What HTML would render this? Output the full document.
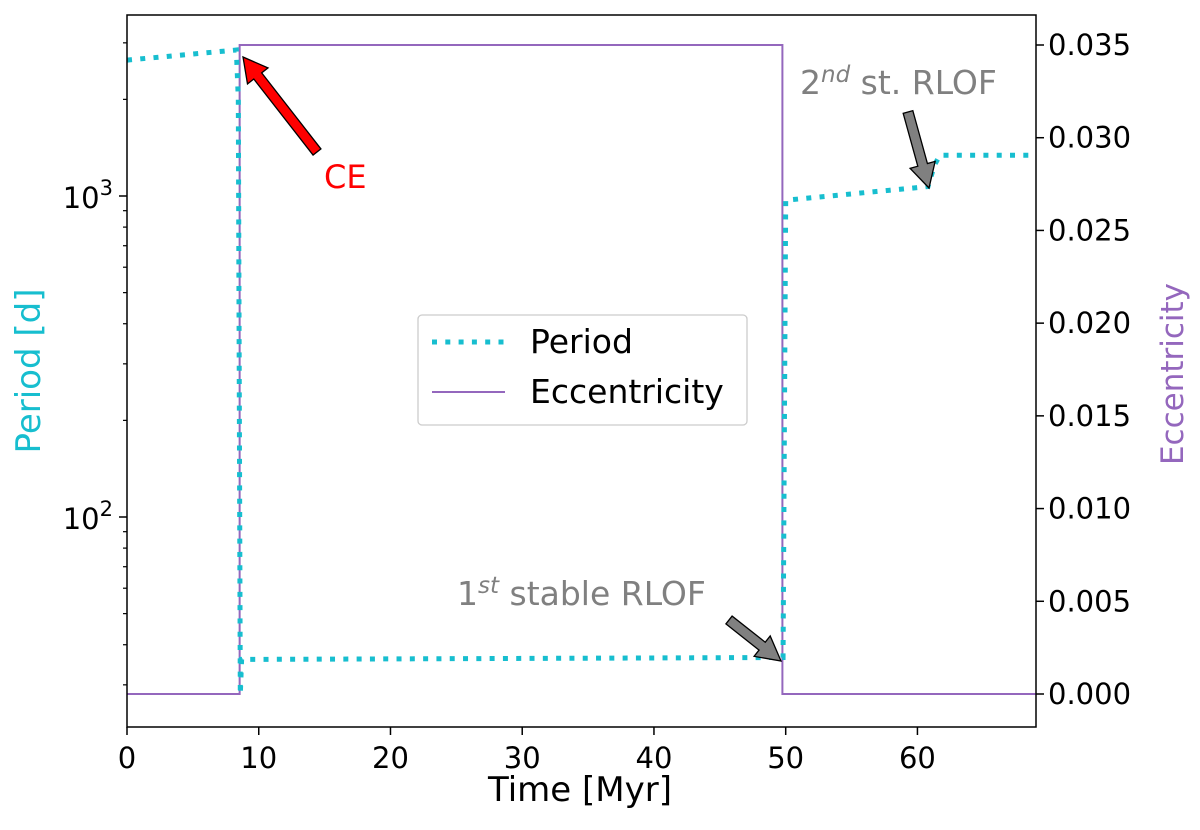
<!DOCTYPE html>
<html><head><meta charset="utf-8"><style>
body{margin:0;background:#fff;}
svg text{font-family:"DejaVu Sans","Liberation Sans",sans-serif;}
</style></head><body>
<svg id="chart" width="1200" height="825" xmlns="http://www.w3.org/2000/svg"></svg>
<script>
const periodT = [0, 8.3, 8.45, 8.6, 8.7, 49.5, 49.8, 50.0, 60.8, 61.3, 61.7, 69];
const periodV = [2650, 2850, 2000, 28, 36, 36.5, 36.5, 970, 1070, 1250, 1340, 1340];
const eccT = [0, 8.55, 8.55, 49.75, 49.75, 69];
const eccV = [0, 0, 0.035, 0.035, 0, 0];
const xTicks = [0, 10, 20, 30, 40, 50, 60];
const eTicks = [0, 0.005, 0.010, 0.015, 0.020, 0.025, 0.030, 0.035];
const eTickLabels = ["0.000","0.005","0.010","0.015","0.020","0.025","0.030","0.035"];
const pMajor = [100, 1000];

const L=127,R=1036,T=15,B=727;
const x = t => L + (t/69)*(R-L);
const yE = e => 694 - e/0.035*(694-45);
const yP = p => 517 - (Math.log10(p)-2)*321;
const NS="http://www.w3.org/2000/svg";
const svg=document.getElementById('chart');
function mk(tag,attrs,parent){const e=document.createElementNS(NS,tag);for(const k in attrs)e.setAttribute(k,attrs[k]);(parent||svg).appendChild(e);return e;}

let d=eccT.map((t,i)=>(i?'L':'M')+x(t)+' '+yE(eccV[i])).join(' ');
const ecc=mk('path',{d:d,fill:'none',stroke:'#9467bd','stroke-width':2});


d=periodT.map((t,i)=>(i?'L':'M')+x(t)+' '+yP(periodV[i])).join(' ');
const per=mk('path',{d:d,fill:'none',stroke:'#17becf','stroke-width':5,'stroke-dasharray':'5 8.3'});



const fr=mk('rect',{x:L,y:T,width:R-L,height:B-T,fill:'none',stroke:'#000','stroke-width':1.5});



xTicks.forEach(t=>{
  mk('line',{x1:x(t),x2:x(t),y1:B,y2:B+8,stroke:'#000','stroke-width':1.5});
  const tx=mk('text',{x:x(t),y:B+41,'font-size':29,'text-anchor':'middle'});tx.textContent=t;
  
  
});
eTicks.forEach((e,i)=>{
  mk('line',{x1:R,x2:R+8,y1:yE(e),y2:yE(e),stroke:'#000','stroke-width':1.5});
  const tx=mk('text',{x:R+12,y:yE(e)+10,'font-size':29});tx.textContent=eTickLabels[i];
  
  
});
pMajor.forEach(p=>{
  mk('line',{x1:L-8,x2:L,y1:yP(p),y2:yP(p),stroke:'#000','stroke-width':1.5});
  const tx=mk('text',{x:L-14,y:yP(p)+12,'font-size':29,'text-anchor':'end'});
  tx.innerHTML='10<tspan dy="-13" font-size="21">'+Math.round(Math.log10(p))+'</tspan>';
  
  
});
for(let dec=10;dec<=1000;dec*=10)for(let m=2;m<=9;m++){const p=dec*m;const y=yP(p);if(y>T&&y<B)mk('line',{x1:L-4,x2:L,y1:y,y2:y,stroke:'#000','stroke-width':1.2});}

let t1=mk('text',{x:580,y:801,'font-size':34,'text-anchor':'middle'});t1.textContent='Time [Myr]';

let t2=mk('text',{x:0,y:0,'font-size':34,'text-anchor':'middle',fill:'#17becf',transform:'translate(40,371) rotate(-90)'});t2.textContent='Period [d]';

let t3=mk('text',{x:0,y:0,'font-size':31,'text-anchor':'middle',fill:'#9467bd',transform:'translate(1183,374) rotate(-90)'});t3.textContent='Eccentricity';


function arrow(x1,y1,x2,y2,fill,name){
  const dx=x2-x1,dy=y2-y1,len=Math.hypot(dx,dy),ux=dx/len,uy=dy/len,px=-uy,py=ux;
  const hw=5,hl=24,hh=13,bx=x2-ux*hl,by=y2-uy*hl;
  const pts=[[x1+px*hw,y1+py*hw],[bx+px*hw,by+py*hw],[bx+px*hh,by+py*hh],[x2,y2],[bx-px*hh,by-py*hh],[bx-px*hw,by-py*hw],[x1-px*hw,y1-py*hw]];
  const a=mk('polygon',{points:pts.map(p=>p.join(',')).join(' '),fill:fill,stroke:'#000','stroke-width':1.3});
  
}
arrow(317,152,243,57,'#ff0000','ce-arrow');
arrow(908,112,929,188,'#808080','second-rlof-arrow');
arrow(729,620,781,661,'#808080','first-rlof-arrow');

let a1=mk('text',{x:324,y:188,'font-size':32,fill:'#ff0000'});a1.textContent='CE';

let a2=mk('text',{x:800,y:94,'font-size':33,fill:'#808080'});a2.innerHTML='2<tspan dy="-12" font-size="23" font-style="italic">nd</tspan><tspan dy="12"> st. RLOF</tspan>';

let a3=mk('text',{x:457,y:605,'font-size':33,fill:'#808080'});a3.innerHTML='1<tspan dy="-12" font-size="23" font-style="italic">st</tspan><tspan dy="12"> stable RLOF</tspan>';


const lg=mk('g',{});

mk('rect',{x:418,y:315,width:329,height:110,rx:4,fill:'#fff','fill-opacity':0.8,stroke:'#ccc','stroke-width':1.3},lg);
mk('line',{x1:432,x2:505,y1:342,y2:342,stroke:'#17becf','stroke-width':5,'stroke-dasharray':'5 8.3'},lg);
let l1=mk('text',{x:530,y:353,'font-size':33},lg);l1.textContent='Period';

mk('line',{x1:432,x2:505,y1:392,y2:392,stroke:'#9467bd','stroke-width':2},lg);
let l2=mk('text',{x:530,y:403,'font-size':33},lg);l2.textContent='Eccentricity';

</script>
</body></html>
